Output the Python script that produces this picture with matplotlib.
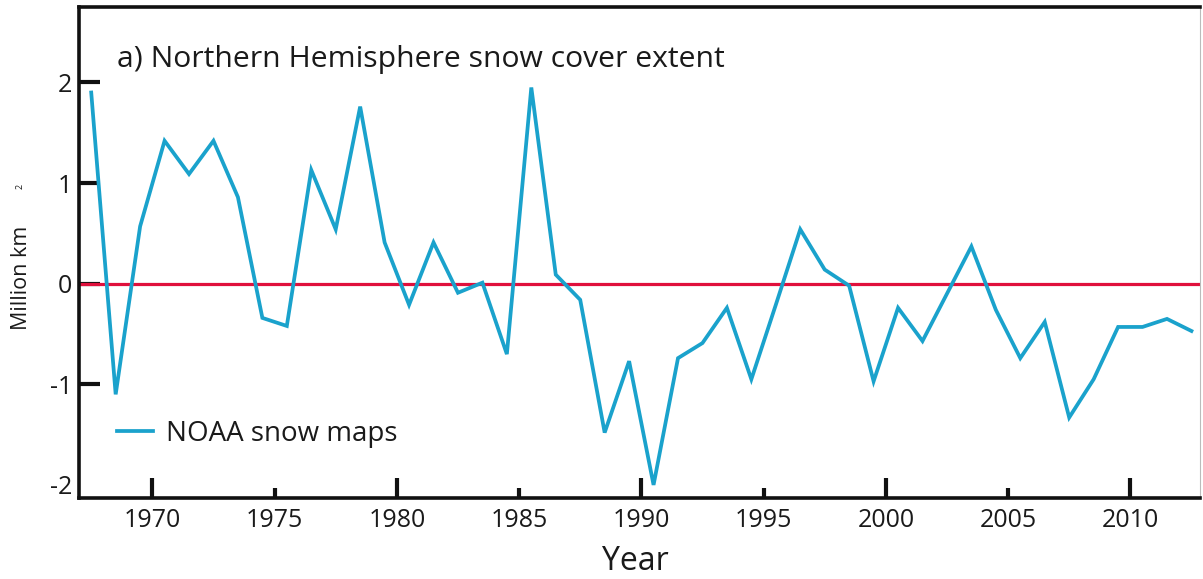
import matplotlib
matplotlib.use("Agg")
import matplotlib.pyplot as plt
from matplotlib.ticker import MultipleLocator, FormatStrFormatter

# Annual Northern Hemisphere snow cover extent anomaly (million km^2), NOAA snow maps
years = [1967.5, 1968.5, 1969.5, 1970.5, 1971.5, 1972.5, 1973.5, 1974.5, 1975.5,
         1976.5, 1977.5, 1978.5, 1979.5, 1980.5, 1981.5, 1982.5, 1983.5, 1984.5,
         1985.5, 1986.5, 1987.5, 1988.5, 1989.5, 1990.5, 1991.5, 1992.5, 1993.5,
         1994.5, 1995.5, 1996.5, 1997.5, 1998.5, 1999.5, 2000.5, 2001.5, 2002.5,
         2003.5, 2004.5, 2005.5, 2006.5, 2007.5, 2008.5, 2009.5, 2010.5, 2011.5,
         2012.5]
anomaly = [1.90, -1.10, 0.57, 1.42, 1.09, 1.42, 0.86, -0.34, -0.42,
           1.13, 0.54, 1.76, 0.41, -0.21, 0.41, -0.09, 0.01, -0.70,
           1.95, 0.09, -0.16, -1.48, -0.77, -2.00, -0.74, -0.59, -0.24,
           -0.95, -0.21, 0.54, 0.14, -0.02, -0.97, -0.24, -0.57, -0.10,
           0.37, -0.26, -0.74, -0.38, -1.33, -0.95, -0.43, -0.43, -0.35,
           -0.47]

y_ticks = [-2, -1, 0, 1, 2]
title = "a) Northern Hemisphere snow cover extent"
series_label = "NOAA snow maps"

FONT = "Open Sans"
plt.rcParams["font.family"] = [FONT, "DejaVu Sans"]

W, H = 1203, 579
fig = plt.figure(figsize=(W / 100, H / 100), dpi=100)
ax = fig.add_axes([79 / W, 1 - 498 / H, 1121 / W, 491 / H])

blue = "#1aa2cc"
red = "#e0103c"
ink = "#1a1a1a"

ax.axhline(0, color=red, lw=2.3, zorder=2)
ax.plot(years, anomaly, color=blue, lw=2.7, zorder=3, label=series_label,
        solid_joinstyle="miter")

ax.set_xlim(1967.0, 2012.85)
ax.set_ylim(-2.13, 2.75)

# ticks point inward; long ticks every decade, short ticks at the half-decades
ax.xaxis.set_major_locator(MultipleLocator(10))
ax.xaxis.set_minor_locator(MultipleLocator(5))
ax.xaxis.set_major_formatter(FormatStrFormatter("%d"))
ax.xaxis.set_minor_formatter(FormatStrFormatter("%d"))
ax.tick_params(axis="x", which="major", direction="in", length=14.5, width=3,
               labelsize=18, pad=7, color="#111111", labelcolor=ink)
ax.tick_params(axis="x", which="minor", direction="in", length=7, width=3,
               labelsize=18, pad=7, color="#111111", labelcolor=ink)
ax.set_yticks(y_ticks)
ax.set_yticklabels([str(v) for v in y_ticks])
ax.tick_params(axis="y", direction="in", length=15, width=3, labelsize=18,
               pad=5, color="#111111", labelcolor=ink)
# the bottom value sits on the x axis, so it gets a label but no tick mark
ax.yaxis.get_major_ticks()[0].tick1line.set_visible(False)

for side in ("left", "bottom", "top"):
    ax.spines[side].set_linewidth(2.6)
    ax.spines[side].set_color("#111111")
ax.spines["right"].set_linewidth(0.8)
ax.spines["right"].set_color("#bbbbbb")

ax.text(38 / 1121, (498 - 67) / 491, title, transform=ax.transAxes,
        fontsize=21.7, color=ink, va="baseline", ha="left")

leg = ax.legend(loc="center left", bbox_to_anchor=(38 / 1121, (498 - 434) / 491),
                frameon=False, fontsize=20, handlelength=1.3, handletextpad=0.45,
                borderpad=0, borderaxespad=0)
for t in leg.get_texts():
    t.set_color(ink)

fig.text(635 / W, 1 - 570 / H, "Year", fontsize=23, ha="center", va="baseline",
         color=ink)
fig.text(22 / W, 1 - 278 / H, "Million km", fontsize=15.5, rotation=90,
         ha="center", va="center", color=ink)
fig.text(20 / W, 1 - 186 / H, "2", fontsize=6.5, rotation=90,
         ha="center", va="center", color=ink)

fig.savefig("out.png", dpi=100, facecolor="white")
